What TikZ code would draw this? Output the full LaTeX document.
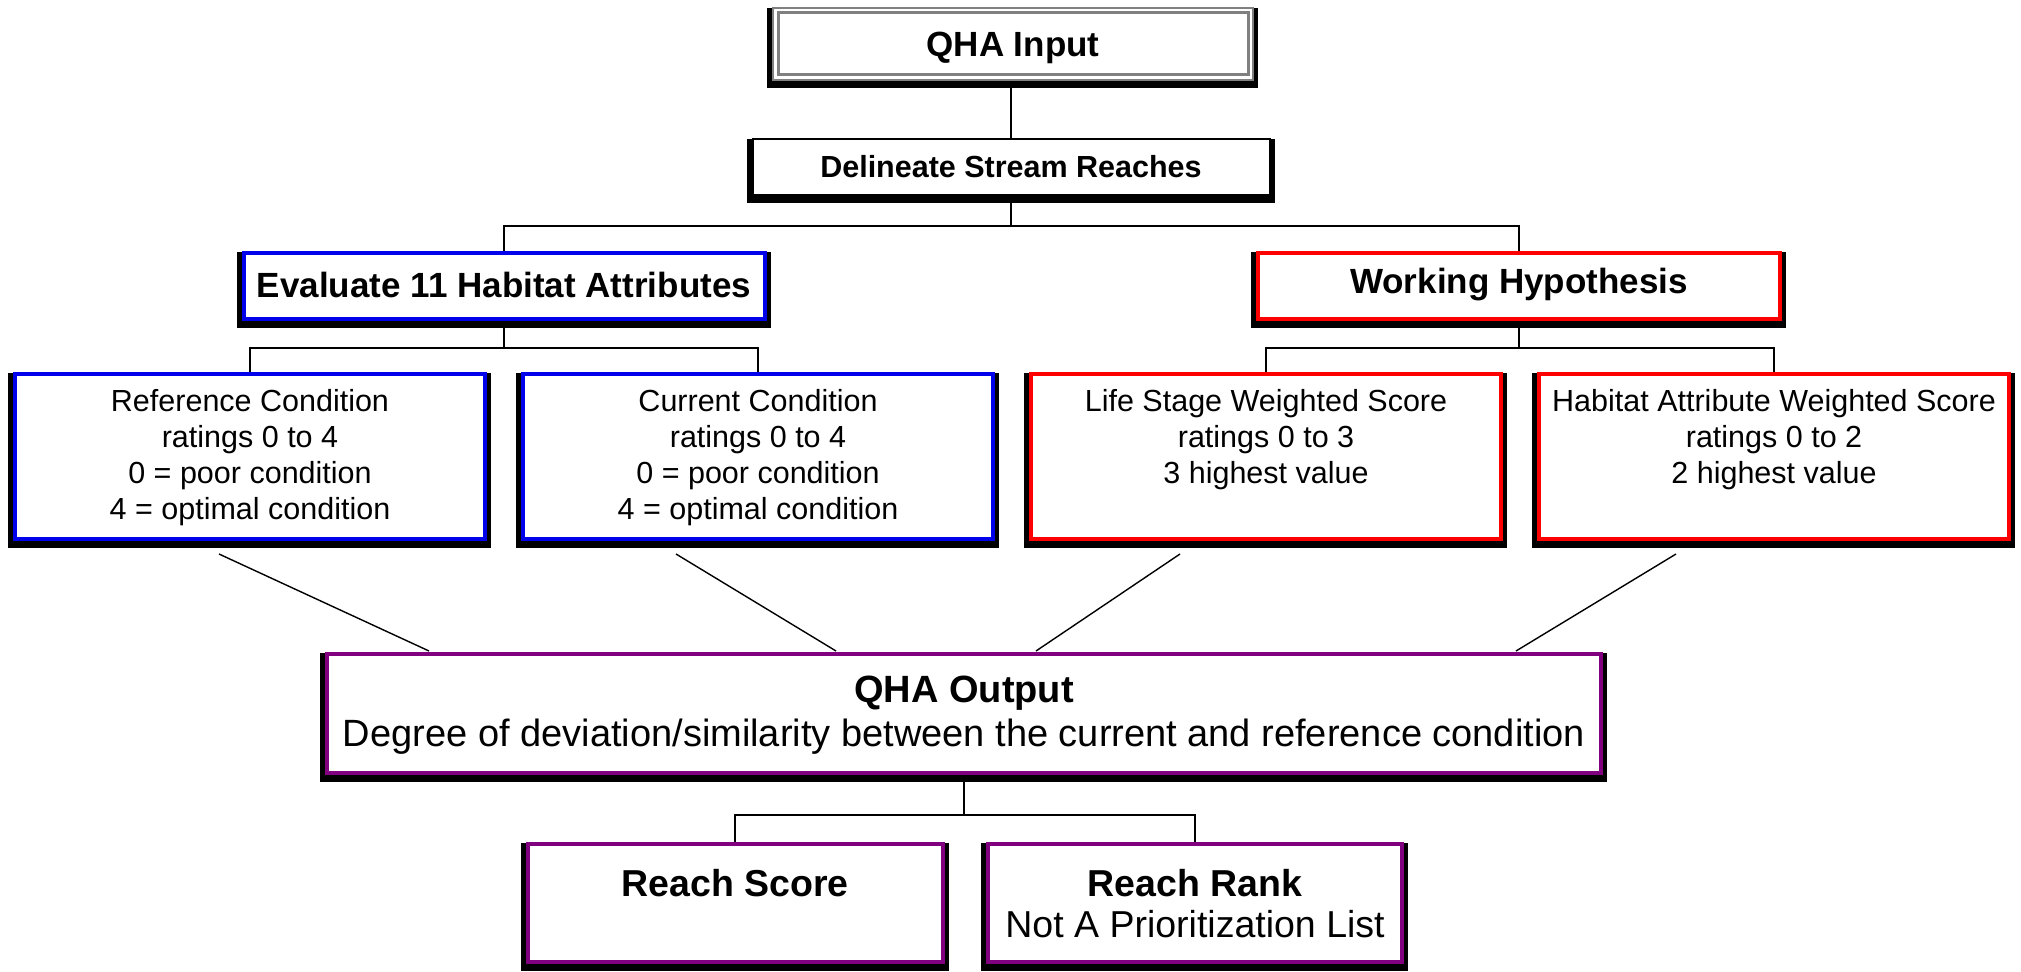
\documentclass[tikz,border=0pt]{standalone}
\usepackage{fontspec}
\setmainfont{Liberation Sans}
\usetikzlibrary{calc}
\pgfdeclarelayer{bg}
\pgfsetlayers{bg,main}
\definecolor{cblue}{RGB}{0,0,235}
\definecolor{cred}{RGB}{255,0,0}
\definecolor{cpurple}{RGB}{128,0,128}
\definecolor{cgray}{RGB}{128,128,128}
\newcommand\boxshadow[1]{\fill[black] ($(#1.north west)+(-5,1)$) rectangle ($(#1.south east)+(4,7)$);}
\begin{document}
\begin{tikzpicture}[x=0.5pt,y=-0.5pt,
  box/.style={draw=#1, line width=2pt, fill=white, rectangle, inner sep=0pt},
  conn/.style={draw=black, line width=0.7pt},
  hbig/.style={font=\bfseries\fontsize{17.5}{21}\selectfont, inner sep=0pt},
  hmid/.style={font=\bfseries\fontsize{15.25}{18}\selectfont, inner sep=0pt},
  tfour/.style={font=\fontsize{15.25}{18}\selectfont, align=center, inner sep=0pt},
  tout/.style={font=\fontsize{19}{22}\selectfont, align=center, inner sep=0pt},
  treach/.style={font=\fontsize{18.75}{20.5}\selectfont, align=center, inner sep=0pt}
]
\useasboundingbox (0,0) rectangle (2021,972);
% boxes
\node[box=cgray, line width=1pt, minimum width=240pt, minimum height=36pt] (qin) at (1013,44) {};
\draw[cgray, line width=1.5pt] ($(qin.north west)+(6,6)$) rectangle ($(qin.south east)+(-6,-6)$);
\node[hbig] at ($(qin.center)+(0,4)$) {QHA Input};

\node[box=black, line width=1pt, minimum width=258.5pt, minimum height=28pt] (del) at (1011,167.5) {};
\node[hmid] at ($(del.center)+(0,-1)$) {Delineate Stream Reaches};

\node[box=cblue, minimum width=260.5pt, minimum height=33pt] (eval) at (504,286) {};
\node[hbig] at ($(eval.center)+(0,-1)$) {Evaluate 11 Habitat Attributes};
\node[box=cred, minimum width=261pt, minimum height=33pt] (wh) at (1519,286) {};
\node[hbig] at ($(wh.center)+(0,-1)$) {Working Hypothesis};

\node[box=cblue, minimum width=235pt, minimum height=82.5pt] (ref) at (250,456.5) {};
\node[tfour, anchor=north] at ($(ref.north)+(0,17)$) {Reference Condition\\ratings 0 to 4\\0 = poor condition\\4 = optimal condition};
\node[box=cblue, minimum width=235pt, minimum height=82.5pt] (cur) at (758,456.5) {};
\node[tfour, anchor=north] at ($(cur.north)+(0,17)$) {Current Condition\\ratings 0 to 4\\0 = poor condition\\4 = optimal condition};
\node[box=cred, minimum width=235pt, minimum height=82.5pt] (ls) at (1266,456.5) {};
\node[tfour, anchor=north] at ($(ls.north)+(0,17)$) {Life Stage Weighted Score\\ratings 0 to 3\\3 highest value};
\node[box=cred, minimum width=235pt, minimum height=82.5pt] (haws) at (1774,456.5) {};
\node[tfour, anchor=north] at ($(haws.north)+(0,17)$) {Habitat Attribute Weighted Score\\ratings 0 to 2\\2 highest value};

\node[box=cpurple, minimum width=637pt, minimum height=59.5pt] (out) at (964,713.5) {};
\node[tout] at ($(out.center)+(0,2)$) {{\bfseries QHA Output}\\Degree of deviation/similarity between the current and reference condition};

\node[box=cpurple, minimum width=207.5pt, minimum height=59pt] (rs) at (735,903) {};
\node[treach, anchor=north] at ($(rs.north)+(0,27)$) {\bfseries Reach Score};
\node[box=cpurple, minimum width=207pt, minimum height=59pt] (rr) at (1195,903) {};
\node[treach, anchor=north] at ($(rr.north)+(0,27)$) {{\bfseries Reach Rank}\\Not A Prioritization List};

% connectors
\coordinate (b1) at (1011,226);
\coordinate (b2) at (504,348);
\coordinate (b3) at (1519,348);
\coordinate (b4) at (964,815);
\coordinate (d1a) at (219,554); \coordinate (d1b) at (429,651);
\coordinate (d2a) at (676,554); \coordinate (d2b) at (836,651);
\coordinate (d3a) at (1180,554); \coordinate (d3b) at (1036,651);
\coordinate (d4a) at (1676,554); \coordinate (d4b) at (1516,651);
\begin{pgfonlayer}{bg}
\draw[conn] (qin.south -| del.north) -- (del.north);
\draw[conn] (del.south) -- (b1);
\draw[conn] (eval.north) |- (b1) -| (wh.north);
\draw[conn] (eval.south) -- (b2);
\draw[conn] (ref.north) |- (b2) -| (cur.north);
\draw[conn] (wh.south) -- (b3);
\draw[conn] (ls.north) |- (b3) -| (haws.north);
\draw[conn] (out.south) -- (b4);
\draw[conn] (rs.north) |- (b4) -| (rr.north);
\draw[conn] (d1a) -- (d1b);
\draw[conn] (d2a) -- (d2b);
\draw[conn] (d3a) -- (d3b);
\draw[conn] (d4a) -- (d4b);
\boxshadow{qin}
\boxshadow{del}
\boxshadow{eval}
\boxshadow{wh}
\boxshadow{ref}
\boxshadow{cur}
\boxshadow{ls}
\boxshadow{haws}
\boxshadow{out}
\boxshadow{rs}
\boxshadow{rr}
\end{pgfonlayer}
\end{tikzpicture}
\end{document}
